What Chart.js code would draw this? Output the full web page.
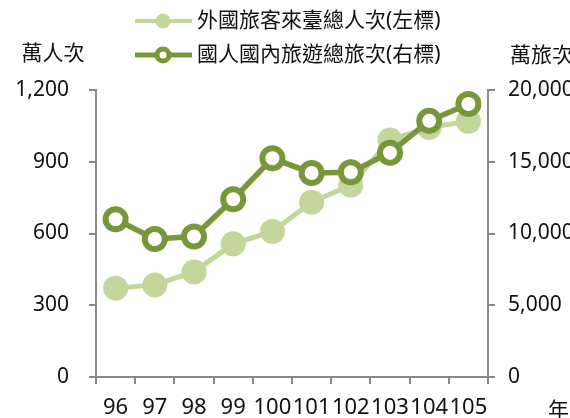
<!DOCTYPE html>
<html>
<head>
<meta charset="utf-8">
<script src="https://cdn.jsdelivr.net/npm/chart.js@4/dist/chart.umd.min.js"></script>
<style>
html,body{margin:0;padding:0;background:#fff;}
#wrap{position:relative;width:570px;height:418px;}
</style>
</head>
<body>
<div id="wrap"><canvas id="c" width="570" height="418"></canvas></div>
<script>
const categories = ['96','97','98','99','100','101','102','103','104','105'];
const foreignVisitors = [371.6, 385.1, 439.5, 556.7, 608.7, 731.1, 801.6, 991.0, 1043.9, 1069.0];
const domesticTrips = [10990, 9620, 9790, 12390, 15240, 14220, 14270, 15630, 17850, 19020];
const seriesNames = ['外國旅客來臺總人次(左標)', '國人國內旅遊總旅次(右標)'];
const leftTitle = '萬人次';
const rightTitle = '萬旅次';
const xTitle = '年';

const LIGHT = '#c3d69b';
const DARK = '#77973a';
const AXIS = '#898989';
const FONT = "'Noto Sans', 'Noto Sans CJK TC', sans-serif";
const FONT_SIZE = 21;

const overlay = {
  id: 'overlay',
  afterDraw(chart) {
    const ctx = chart.ctx;
    ctx.save();
    ctx.font = FONT_SIZE + 'px ' + FONT;
    ctx.fillStyle = '#111';
    ctx.textBaseline = 'middle';
    const rows = [
      {y: 21, color: LIGHT, fill: LIGHT, r: 7.5, bw: 0, lw: 4, text: seriesNames[0]},
      {y: 55, color: DARK, fill: '#fff', r: 6, bw: 5, lw: 5, text: seriesNames[1]}
    ];
    rows.forEach(rw => {
      ctx.strokeStyle = rw.color;
      ctx.lineWidth = rw.lw;
      ctx.beginPath();
      ctx.moveTo(135, rw.y); ctx.lineTo(192, rw.y);
      ctx.stroke();
      ctx.beginPath();
      ctx.arc(163, rw.y, rw.r, 0, Math.PI * 2);
      ctx.fillStyle = rw.fill;
      ctx.fill();
      if (rw.bw) { ctx.lineWidth = rw.bw; ctx.strokeStyle = rw.color; ctx.stroke(); }
      ctx.fillStyle = '#111';
      ctx.textAlign = 'left';
      ctx.fillText(rw.text, 197, rw.y);
    });
    ctx.textAlign = 'center';
    ctx.fillText(leftTitle, 53, 54);
    ctx.textAlign = 'left';
    ctx.fillText(rightTitle, 510, 56);
    ctx.fillText(xTitle, 548, 411);
    ctx.restore();
  }
};

new Chart(document.getElementById('c'), {
  type: 'line',
  data: {
    labels: categories,
    datasets: [
      {
        label: seriesNames[1],
        data: domesticTrips,
        yAxisID: 'y1',
        borderColor: DARK,
        borderWidth: 5.5,
        backgroundColor: '#fff',
        pointBackgroundColor: '#fff',
        pointBorderColor: DARK,
        pointBorderWidth: 6,
        pointRadius: 10,
        pointHoverRadius: 10,
        tension: 0,
        clip: false
      },
      {
        label: seriesNames[0],
        data: foreignVisitors,
        yAxisID: 'y',
        borderColor: LIGHT,
        borderWidth: 5,
        backgroundColor: LIGHT,
        pointBackgroundColor: LIGHT,
        pointBorderColor: LIGHT,
        pointBorderWidth: 0,
        pointRadius: 12.5,
        pointHoverRadius: 12.5,
        tension: 0,
        clip: false
      }
    ]
  },
  options: {
    responsive: false,
    animation: false,
    devicePixelRatio: 1,
    layout: {padding: {top: 90, left: 0, right: 0, bottom: 0}},
    plugins: {legend: {display: false}, tooltip: {enabled: false}},
    scales: {
      x: {
        type: 'category',
        offset: true,
        grid: {offset: true, drawOnChartArea: false, drawTicks: true, tickLength: 7, color: AXIS, lineWidth: 2},
        border: {color: AXIS, width: 2},
        ticks: {color: '#111', font: {family: FONT, size: 22}, padding: 11, maxRotation: 0, autoSkip: false},
        afterFit(s) { s.height = 41; }
      },
      y: {
        position: 'left',
        min: 0, max: 1200,
        ticks: {stepSize: 300, color: '#111', font: {family: FONT, size: FONT_SIZE}, padding: 20,
          callback: v => v.toLocaleString('en-US')},
        grid: {drawOnChartArea: false, drawTicks: true, tickLength: 7, color: AXIS, lineWidth: 2},
        border: {color: AXIS, width: 2},
        afterFit(s) { s.width = 96; }
      },
      y1: {
        position: 'right',
        min: 0, max: 20000,
        ticks: {stepSize: 5000, color: '#111', font: {family: FONT, size: FONT_SIZE}, padding: 13,
          callback: v => v.toLocaleString('en-US')},
        grid: {drawOnChartArea: false, drawTicks: true, tickLength: 7, color: AXIS, lineWidth: 2},
        border: {color: AXIS, width: 2},
        afterFit(s) { s.width = 82; }
      }
    }
  },
  plugins: [overlay]
});
</script>
</body>
</html>
